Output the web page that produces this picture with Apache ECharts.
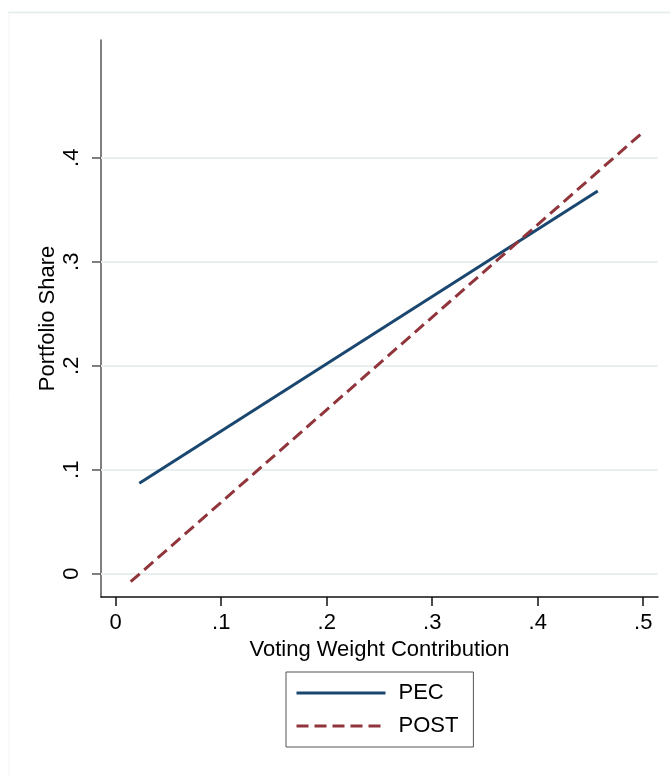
<!DOCTYPE html>
<html>
<head>
<meta charset="utf-8">
<script src="https://cdn.jsdelivr.net/npm/echarts@6/dist/echarts.min.js"></script>
<style>
  html, body { margin: 0; padding: 0; background: #ffffff; }
  #chart { width: 670px; height: 776px; }
</style>
</head>
<body>
<div id="chart"></div>
<script>
// Fitted lines: portfolio share against voting weight contribution
const seriesNames = ['PEC', 'POST'];
const pecLine = [[0.0224, 0.0869], [0.4569, 0.368]];
const postLine = [[0.0142, -0.0077], [0.4986, 0.4235]];

// Axis ticks and their printed labels
const xTickValues = [0, 0.1, 0.2, 0.3, 0.4, 0.5];
const xTickLabels = ['0', '.1', '.2', '.3', '.4', '.5'];
const yTickValues = [0, 0.1, 0.2, 0.3, 0.4];
const yTickLabels = ['0', '.1', '.2', '.3', '.4'];

const FONT = '"Liberation Sans", Arial, sans-serif';

function labelFor(values, labels) {
  return function (v) {
    for (let i = 0; i < values.length; i++) {
      if (Math.abs(values[i] - v) < 1e-6) return labels[i];
    }
    return '';
  };
}

const chart = echarts.init(document.getElementById('chart'), null, { renderer: 'canvas' });

chart.setOption({
  animation: false,
  backgroundColor: '#ffffff',
  textStyle: { fontFamily: FONT },
  graphic: [
    { type: 'line', shape: { x1: 8, y1: 12.5, x2: 670, y2: 12.5 }, style: { stroke: '#e3ebeb', lineWidth: 1.5 }, silent: true },
    { type: 'line', shape: { x1: 9, y1: 12.5, x2: 9, y2: 776 }, style: { stroke: '#f3f6f6', lineWidth: 1 }, silent: true }
  ],
  grid: { left: 101, top: 40, width: 557, height: 557, containLabel: false },
  xAxis: {
    type: 'value',
    min: -0.01393,
    max: 0.514,
    name: 'Voting Weight Contribution',
    nameLocation: 'middle',
    nameGap: 42,
    nameMoveOverlap: false,
    nameTextStyle: { fontSize: 22, color: '#000', fontFamily: FONT },
    axisLine: { show: true, onZero: false, lineStyle: { color: '#111', width: 1.5 } },
    axisTick: { show: true, length: 9, customValues: xTickValues, lineStyle: { color: '#111', width: 1.5 } },
    axisLabel: {
      customValues: xTickValues,
      formatter: labelFor(xTickValues, xTickLabels),
      fontSize: 22, color: '#000', margin: 15, fontFamily: FONT
    },
    splitLine: { show: false }
  },
  yAxis: {
    type: 'value',
    min: -0.0224,
    max: 0.5132,
    name: 'Portfolio Share',
    nameLocation: 'middle',
    nameGap: 42,
    nameMoveOverlap: false,
    nameTextStyle: { fontSize: 22, color: '#000', fontFamily: FONT },
    axisLine: { show: true, onZero: false, lineStyle: { color: '#555', width: 1.5 } },
    axisTick: { show: true, length: 9, customValues: yTickValues, lineStyle: { color: '#555', width: 1.5 } },
    axisLabel: {
      customValues: yTickValues,
      formatter: labelFor(yTickValues, yTickLabels),
      rotate: 90,
      fontSize: 22, color: '#000', margin: 18, fontFamily: FONT
    },
    splitLine: { show: false }
  },
  legend: {
    data: seriesNames,
    orient: 'vertical',
    left: 286,
    top: 672,
    padding: [10, 15, 10, 9],
    itemWidth: 89,
    itemHeight: 14,
    itemGap: 11,
    borderColor: '#555',
    borderWidth: 1,
    itemStyle: { opacity: 0, borderWidth: 0 },
    lineStyle: { width: 3 },
    textStyle: { fontSize: 22, color: '#000', lineHeight: 22, padding: [0, 0, 0, 8], fontFamily: FONT }
  },
  series: [
    {
      name: seriesNames[0],
      type: 'line',
      data: pecLine,
      symbol: 'none',
      z: 3,
      lineStyle: { color: '#1a476f', width: 3 },
      itemStyle: { color: '#1a476f' },
      markLine: {
        silent: true,
        symbol: 'none',
        z: 1,
        label: { show: false },
        lineStyle: { color: '#e8efef', width: 2, type: 'solid' },
        data: yTickValues.map(v => ({ yAxis: v }))
      }
    },
    {
      name: seriesNames[1],
      type: 'line',
      data: postLine,
      symbol: 'none',
      z: 3,
      lineStyle: { color: '#90353b', width: 3, type: [12, 6] },
      itemStyle: { color: '#90353b' }
    }
  ]
});
</script>
</body>
</html>
